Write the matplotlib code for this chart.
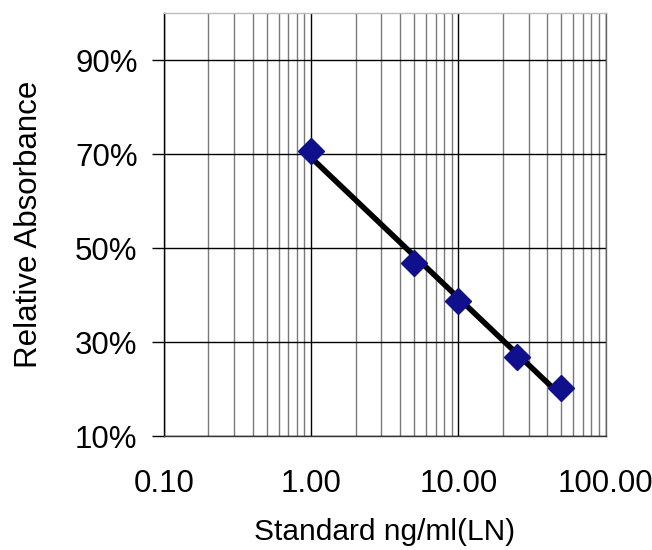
import numpy as np
import matplotlib.pyplot as plt
from matplotlib.ticker import FixedLocator, FuncFormatter, NullFormatter

plt.rcParams['font.family'] = ['Liberation Sans', 'DejaVu Sans']

# standard concentrations and measured relative absorbance
conc = [1.0, 5.0, 10.0, 25.0, 50.0]
absorbance = [0.706, 0.468, 0.387, 0.268, 0.202]

x_ticks = [0.1, 1.0, 10.0, 100.0]
y_ticks = [0.1, 0.3, 0.5, 0.7, 0.9]

# log trendline through the standards
b, a = np.polyfit(np.log(conc), absorbance, 1)
fit_x = np.linspace(min(conc), max(conc), 200)
fit_y = a + b * np.log(fit_x)

fig = plt.figure(figsize=(6.52, 5.5), dpi=100)
ax = fig.add_axes([0.2515, 0.207, 0.6775, 0.769])

ax.set_xscale('log')
ax.set_xlim(0.1, 100)
ax.set_ylim(0.1, 1.0)

# grid: minor decades in gray, majors black
ax.xaxis.set_major_locator(FixedLocator(x_ticks))
ax.xaxis.set_minor_locator(FixedLocator([m * d for d in [0.1, 1, 10] for m in range(2, 10)]))
ax.xaxis.set_minor_formatter(NullFormatter())
ax.xaxis.set_major_formatter(FuncFormatter(lambda v, p: '%.2f' % v))
ax.yaxis.set_major_locator(FixedLocator(y_ticks))
ax.yaxis.set_major_formatter(FuncFormatter(lambda v, p: '%d%%' % round(v * 100)))

ax.grid(True, which='major', axis='x', color='black', lw=1.0)
ax.grid(True, which='minor', axis='x', color='#7a7a7a', lw=1.0)
ax.grid(True, which='major', axis='y', color='black', lw=1.0)
ax.set_axisbelow(True)

ax.tick_params(axis='x', which='both', length=0, pad=24, labelsize=22.5)
ax.tick_params(axis='y', which='major', length=9, width=1, pad=10, labelsize=22.5, direction='out')

ax.spines['top'].set_color('#bbbbbb')
ax.spines['right'].set_color('#666666')
ax.spines['left'].set_color('black')
ax.spines['bottom'].set_color('#333333')
for s in ax.spines.values():
    s.set_linewidth(1.0)

ax.plot(fit_x, fit_y, color='black', lw=4, zorder=3, solid_capstyle='butt')
ax.plot(conc, absorbance, linestyle='none', marker='D', ms=13, color='#10108c',
        mec='#10108c', zorder=4, clip_on=False)

ax.set_xlabel('Standard ng/ml(LN)', fontsize=21.5, labelpad=13)
ax.set_ylabel('Relative Absorbance', fontsize=22.5, labelpad=22)

fig.savefig('out.png', dpi=100)
